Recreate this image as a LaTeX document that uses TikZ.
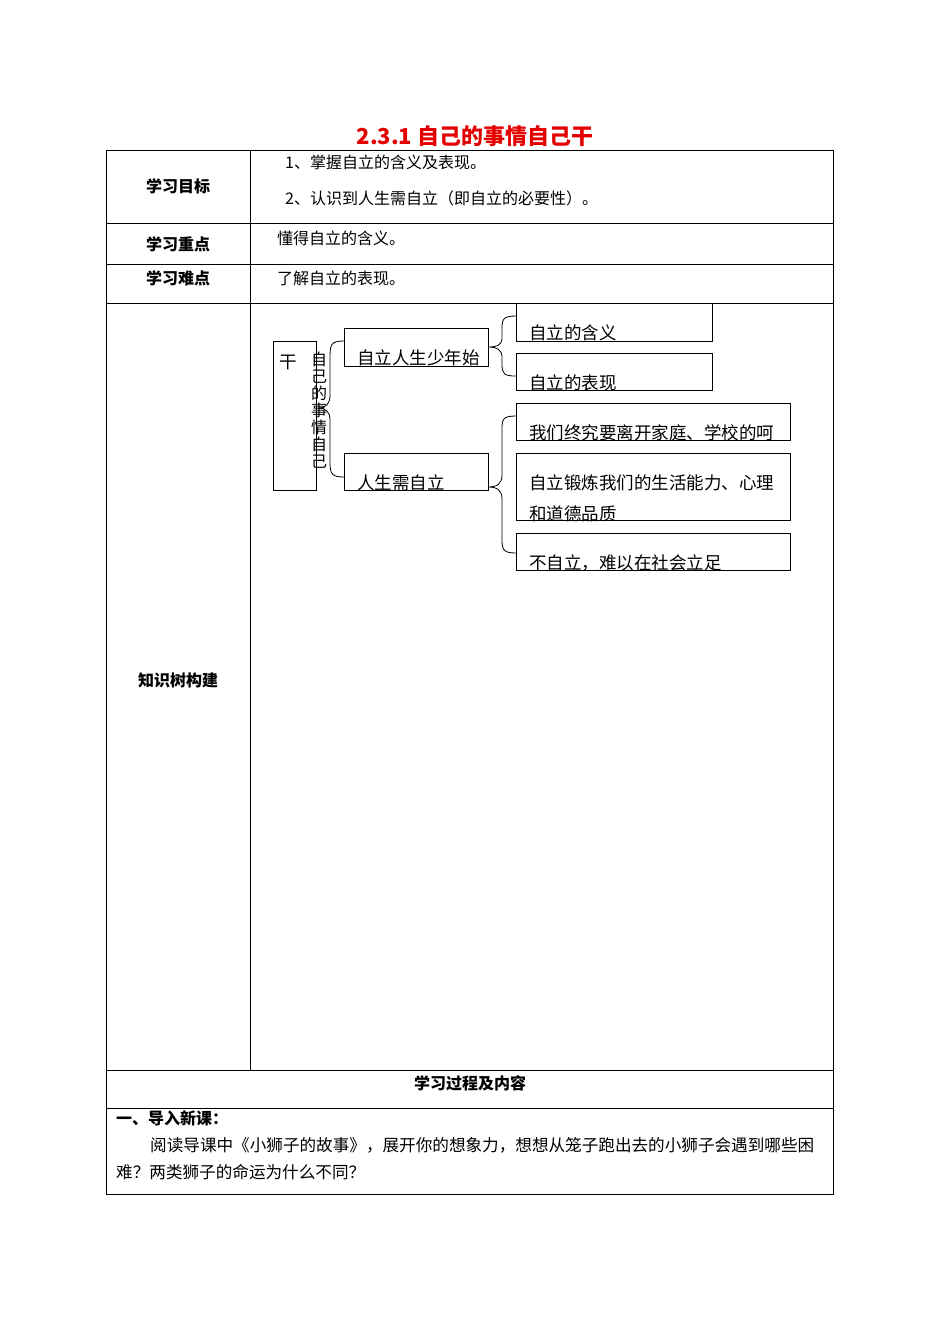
\documentclass[tikz,border=0pt]{standalone}
\usepackage{fontspec}
\setmainfont{Noto Sans CJK SC}
\begin{document}
\begin{tikzpicture}[x=1pt,y=-1pt,
  lbl/.style={font=\fontsize{16}{18}\selectfont\bfseries},
  txt/.style={font=\fontsize{16}{18}\selectfont,anchor=base west,inner sep=0},
  ptx/.style={font=\fontsize{16.6}{18}\selectfont,anchor=base west,inner sep=0},
  ttx/.style={font=\fontsize{17.5}{19}\selectfont,anchor=base west,inner sep=0},
  bx/.style={draw,line width=0.8pt},
  br/.style={draw,line width=0.8pt},
  tl/.style={draw,line width=0.7pt}]
\useasboundingbox[fill=white] (0,0) rectangle (950,1344);
% title
\node[font=\fontsize{22}{25}\selectfont\bfseries,text=red!90!black] (title) at (475,136) {2.3.1 自己的事情自己干};
% table
\draw[tl] (106,150) rectangle (833,1194);
\foreach \yy in {223,264,303,1070,1108} \draw[tl] (106,\yy) -- (833,\yy);
\draw[tl] (250,150) -- (250,1070);
\node[lbl] (l1) at (178,186) {学习目标};
\node[lbl] (l2) at (178,244) {学习重点};
\node[lbl] (l3) at (178,278) {学习难点};
\node[lbl] (l4) at (178,680) {知识树构建};
\node[txt] (t1) at (285,168) {1、掌握自立的含义及表现。};
\node[txt] (t2) at (285,204) {2、认识到人生需自立（即自立的必要性）。};
\node[txt] (t3) at (277,244) {懂得自立的含义。};
\node[txt] (t4) at (277,284) {了解自立的表现。};
\node[lbl] (l5) at (470,1083) {学习过程及内容};
\node[lbl,anchor=base west,inner sep=0] (l6) at (116,1124) {一、导入新课：};
\node[ptx] (p1) at (150,1151) {阅读导课中《小狮子的故事》，展开你的想象力，想想从笼子跑出去的小狮子会遇到哪些困};
\node[ptx] (p2) at (116,1178) {难？两类狮子的命运为什么不同？};
% tree
\draw[bx] (273,341) rectangle (316,490);
\node[ttx] (gan) at (279,368) {干};
\node[font=\fontsize{16}{17}\selectfont,align=center,inner sep=0,anchor=north] (vt) at (319,352) {自\\己\\的\\事\\情\\自\\己};
\draw[bx] (344,328) rectangle (488,366);
\node[ttx] (a) at (357,364) {自立人生少年始};
\draw[bx] (344,453) rectangle (488,490);
\node[ttx] (b) at (357,489) {人生需自立};
\draw[bx] (516,303) rectangle (712,341);
\node[ttx] (c) at (529,339) {自立的含义};
\draw[bx] (516,353) rectangle (712,390);
\node[ttx] (d) at (529,389) {自立的表现};
\draw[bx] (516,403) rectangle (790,440);
\node[ttx] (e) at (529,439) {我们终究要离开家庭、学校的呵};
\draw[bx] (516,453) rectangle (790,520);
\node[ttx] (f1) at (529,489) {自立锻炼我们的生活能力、心理};
\node[ttx] (f2) at (529,520) {和道德品质};
\draw[bx] (516,533) rectangle (790,570);
\node[ttx] (g) at (529,569) {不自立，难以在社会立足};
% braces
\draw[br] (344,341) .. controls (330,341) and (330,345) .. (330,360) -- (330,395)
  .. controls (330,404) and (326,408) .. (318,408)
  .. controls (326,408) and (330,412) .. (330,420) -- (330,462)
  .. controls (330,474) and (332,477) .. (344,477);
\draw[br] (516,316) .. controls (502,316) and (502,320) .. (502,330) -- (502,338)
  .. controls (502,345) and (497,347) .. (488,347)
  .. controls (497,347) and (502,350) .. (502,357) -- (502,364)
  .. controls (502,374) and (504,376) .. (516,376);
\draw[br] (516,416) .. controls (502,416) and (502,420) .. (502,430) -- (502,475)
  .. controls (502,484) and (497,487) .. (488,487)
  .. controls (497,487) and (502,490) .. (502,499) -- (502,540)
  .. controls (502,550) and (504,553) .. (516,553);
\end{tikzpicture}
\end{document}
